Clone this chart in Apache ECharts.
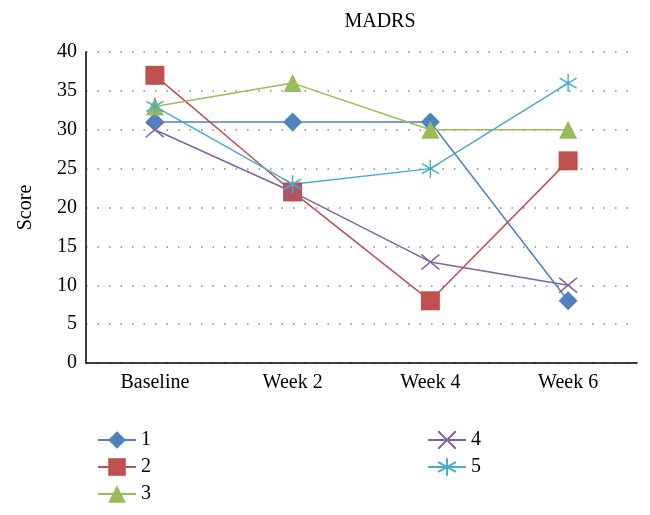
<!DOCTYPE html>
<html><head><meta charset="utf-8">
<script src="https://cdn.jsdelivr.net/npm/echarts@6/dist/echarts.min.js"></script>
<style>html,body{margin:0;padding:0;background:#fff}#c{width:650px;height:515px}</style>
</head><body><div id="c"></div>
<script>
const categories = ['Baseline', 'Week 2', 'Week 4', 'Week 6'];
const seriesNames = ['1', '2', '3', '4', '5'];
const s1 = [31, 31, 31, 8];
const s2 = [37, 22, 8, 26];
const s3 = [33, 36, 30, 30];
const s4 = [30, 22, 13, 10];
const s5 = [33, 23, 25, 36];
const yTicks = [0, 5, 10, 15, 20, 25, 30, 35, 40];

const colors = ['#4F81BD', '#C0504D', '#9BBB59', '#8064A2', '#4BACC6'];
const font = 'Liberation Serif, DejaVu Serif, serif';
const xPath = 'path://M0,0L10,8M0,8L10,0';
const starPath = 'path://M5,0L5,10M0,2.2L10,7.8M0,7.8L10,2.2';

function mk(i, data, symbol, size, stroke) {
  return {
    name: seriesNames[i], type: 'line', data: data,
    symbol: symbol, symbolSize: size,
    lineStyle: { color: colors[i], width: 1.5 },
    itemStyle: stroke ? { color: 'rgba(0,0,0,0)', borderColor: colors[i], borderWidth: 1.5 } : { color: colors[i] },
    emphasis: { disabled: true }
  };
}

const legendText = { fontFamily: font, fontSize: 20, color: '#000' };
const chart = echarts.init(document.getElementById('c'));
chart.setOption({
  animation: false,
  title: { text: 'MADRS', left: 375, top: 7, textAlign: 'center',
    textStyle: { fontFamily: font, fontSize: 20, fontWeight: 'normal', color: '#000' } },
  grid: { left: 86, top: 52, right: 13, bottom: 152, containLabel: false },
  xAxis: {
    type: 'category', data: categories, boundaryGap: true,
    axisLine: { lineStyle: { color: '#000', width: 1.5 } },
    axisTick: { show: false },
    axisLabel: { fontFamily: font, fontSize: 20, color: '#000', margin: 10 }
  },
  yAxis: {
    type: 'value', min: yTicks[0], max: yTicks[yTicks.length - 1], interval: 5,
    name: 'Score', nameLocation: 'middle', nameGap: 50, nameRotate: 90,
    nameTextStyle: { fontFamily: font, fontSize: 20, color: '#000' },
    axisLine: { show: true, lineStyle: { color: '#000', width: 1.5 } },
    axisTick: { show: false },
    axisLabel: { fontFamily: font, fontSize: 20, color: '#000', margin: 9 },
    splitLine: { lineStyle: { color: '#888', type: [1.5, 10], width: 1.5 } }
  },
  legend: [
    { data: ['1', '2', '3'], orient: 'vertical', left: 92, top: 425, itemGap: 7, itemWidth: 38, itemHeight: 22,
      textStyle: legendText },
    { data: ['4', '5'], orient: 'vertical', left: 422, top: 425, itemGap: 7, itemWidth: 38, itemHeight: 22,
      textStyle: legendText }
  ],
  series: [
    mk(0, s1, 'diamond', 19, false),
    mk(1, s2, 'rect', 19, false),
    mk(2, s3, 'triangle', 18, false),
    mk(3, s4, xPath, [18, 15], true),
    mk(4, s5, starPath, [17, 18], true)
  ]
});
</script></body></html>
